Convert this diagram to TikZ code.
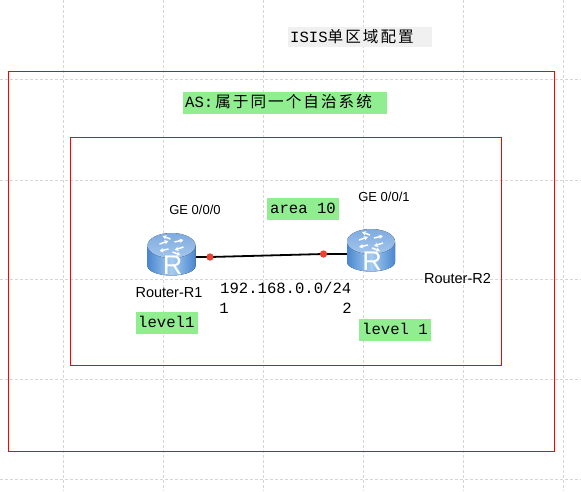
\documentclass[tikz,border=0pt]{standalone}
\usepackage{fontspec}
\setmainfont{Liberation Sans}
\newfontfamily\monofam{Liberation Mono}
\newfontfamily\cjkfam[LetterSpace=13]{Noto Sans CJK SC}
\usetikzlibrary{arrows.meta}
\definecolor{gridc}{HTML}{D6D6D6}
\definecolor{rtop}{HTML}{7FABE0}
\definecolor{rtopb}{HTML}{A3C6EC}
\definecolor{rdark}{HTML}{4A86CF}
\definecolor{rlight}{HTML}{A5CDF2}
\definecolor{tagc}{HTML}{90EE90}
\definecolor{dotc}{HTML}{F04030}
\tikzset{
  x=1pt,y=-1pt,
  gridline/.style={draw=gridc,line width=0.8pt,dash pattern=on 3pt off 2pt},
  zone/.style={draw=red,line width=0.9pt,fill=none},
  iflabel/.style={font=\fontsize{13}{15}\selectfont,inner sep=0pt,text=black},
  namelabel/.style={font=\fontsize{14.5}{16}\selectfont,inner sep=0pt,text=black},
  codetext/.style={font=\monofam\fontsize{15.6}{18}\selectfont,inner sep=0pt,text=black},
  routerbox/.style={minimum width=48pt,minimum height=43pt,inner sep=0pt,draw=none},
  portdot/.style={circle,fill=dotc,draw=none,minimum size=7pt,inner sep=0pt},
  linkline/.style={draw=black,line width=1.8pt},
  turn/.style={white,line width=1.5pt,-{Stealth[length=4pt,width=4.5pt]}}
}
\newcommand{\routerlook}[1]{%
  \begin{scope}[shift={(#1.center)}]
    \fill[left color=rdark,right color=rdark,middle color=rlight]
      (-24,-8) -- (-24,12) arc[start angle=180,end angle=0,x radius=24,y radius=9.5] -- (24,-8) -- cycle;
    \fill[top color=rtop,bottom color=rtopb] (0,-8.5) ellipse[x radius=24,y radius=12.5];
    \draw[turn] (-12,-10) -- (-3,-13);
    \draw[turn] (-1,-15) -- (-9,-18);
    \draw[turn] (12,-7) -- (3,-4);
    \draw[turn] (1,-2) -- (9,1);
    \draw[turn] (-3,-5) -- (-12,-3);
    \draw[turn] (3,-12) -- (12,-14);
    \node[text=white,font=\fontsize{27}{27}\selectfont,inner sep=0pt] (#1R) at (1,11) {R};
  \end{scope}}
\begin{document}
\begin{tikzpicture}
\useasboundingbox (0,0) rectangle (581,491);
\fill[white] (0,0) rectangle (581,491);
\foreach \gx in {63,163,263,363,463,563} \draw[gridline] (\gx,0) -- (\gx,491);
\foreach \gy in {79,180,279,379,479} \draw[gridline] (0,\gy) -- (581,\gy);
\draw[zone] (8,71) rectangle (554,451);
\draw[zone] (70,137) rectangle (501,365);
\fill[black!6] (288,27) rectangle (432,47);
\node[codetext,anchor=west] (title) at (290,37) {ISIS{\cjkfam 单区域配置}};
\fill[tagc] (183,92) rectangle (387,114);
\node[codetext,anchor=west] (as) at (185,102) {AS:\kern2pt{\cjkfam 属于同一个自治系统}};
\fill[tagc] (267,198) rectangle (339,220);
\node[codetext,anchor=west] (area) at (270,208) {area 10};
\fill[tagc] (136,312) rectangle (198,334);
\node[codetext,anchor=west] (lv1) at (138,322) {level1};
\fill[tagc] (359,319) rectangle (431,341);
\node[codetext,anchor=west] (lv2) at (362,329) {level 1};
\node[routerbox] (r1) at (171.5,254) {};
\node[routerbox] (r2) at (371,250) {};
\node[portdot] (d1) at (210,257) {};
\node[portdot] (d2) at (323.5,254) {};
\draw[linkline] (r1.east |- d1) -- (d1.center);
\draw[linkline] (d1.center) -- (d2.center);
\draw[linkline] (d2.center) -- (r2.west |- d2);
\node[portdot] at (d1) {};
\node[portdot] at (d2) {};
\routerlook{r1}
\routerlook{r2}
\node[iflabel] (ge0) at (195,210) {GE 0/0/0};
\node[iflabel] (ge1) at (384,197) {GE 0/0/1};
\node[namelabel] (n1) at (169,293) {Router-R1};
\node[namelabel] (n2) at (457.5,279) {Router-R2};
\node[codetext,anchor=west] (net) at (220,288) {192.168.0.0/24};
\node[codetext] (ip1) at (224,308) {1};
\node[codetext] (ip2) at (347,308) {2};
\end{tikzpicture}
\end{document}
